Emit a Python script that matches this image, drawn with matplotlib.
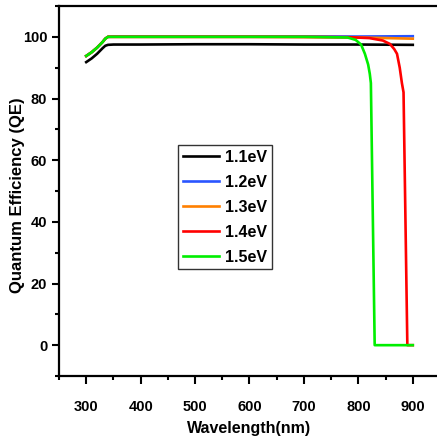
import numpy as np
import matplotlib
matplotlib.use("Agg")
import matplotlib.pyplot as plt

plt.rcParams['font.family'] = ['Liberation Sans', 'DejaVu Sans']
plt.rcParams['font.weight'] = 'bold'

# Wavelength (nm) and QE (%)
wl_flat = [300, 310, 320, 330, 335, 340, 350, 400, 500, 600, 700, 800, 900]
qe_11 = [91.8, 93.0, 94.5, 96.3, 97.1, 97.4, 97.5, 97.5, 97.6, 97.6, 97.5, 97.5, 97.4]
qe_12 = [93.8, 95.0, 96.5, 98.3, 99.4, 100.0, 100.1, 100.1, 100.1, 100.1, 100.1, 100.1, 100.2]
qe_13 = [93.8, 95.0, 96.5, 98.3, 99.4, 100.0, 100.0, 100.0, 100.0, 100.0, 99.9, 99.8, 99.4]

wl_14 = [300, 310, 320, 330, 335, 340, 350, 500, 700, 780, 820, 845, 858,
         866, 871, 876, 880, 883, 890, 900]
qe_14 = [93.8, 95.0, 96.5, 98.3, 99.4, 100.0, 100.0, 100.0, 100.0, 99.9, 99.6,
         98.8, 97.7, 96.0, 94.5, 90.0, 85.0, 82.0, 0.0, 0.0]

wl_15 = [300, 310, 320, 330, 335, 340, 350, 500, 700, 780, 795, 805, 812,
         818, 821, 823, 830, 900]
qe_15 = [93.8, 95.0, 96.5, 98.3, 99.4, 100.0, 100.0, 100.0, 100.0, 99.8, 99.0,
         97.5, 94.5, 91.0, 88.0, 85.0, 0.0, 0.0]

labels = ['1.1eV', '1.2eV', '1.3eV', '1.4eV', '1.5eV']
colors = ['#000000', '#2a55ff', '#ff8000', '#ff0000', '#00ee00']

fig = plt.figure(figsize=(4.37, 4.38), dpi=100)
ax = fig.add_axes([59 / 437, 62 / 438, (440 - 59) / 437, (376 - 6) / 438])

series = [(wl_flat, qe_11), (wl_flat, qe_12), (wl_flat, qe_13),
          (wl_14, qe_14), (wl_15, qe_15)]
for (x, y), lab, c in zip(series, labels, colors):
    ax.plot(x, y, color=c, lw=1.9, label=lab)

ax.set_xlim(250, 950)
ax.set_ylim(-10, 110)
ax.set_xticks(np.arange(300, 901, 100))
ax.set_xticks(np.arange(250, 951, 50), minor=True)
ax.set_yticks(np.arange(0, 101, 20))
ax.set_yticks(np.arange(-10, 111, 10), minor=True)
ax.tick_params(which='both', direction='out', width=1.5, top=False, right=False,
               labelsize=10.5)
ax.tick_params(which='major', length=5)
ax.tick_params(which='minor', length=3)
ax.tick_params(axis='x', which='major', length=6, pad=11)
for s in ax.spines.values():
    s.set_linewidth(1.6)

ax.set_xlabel('Wavelength(nm)', fontsize=11.5, fontweight='bold', labelpad=5)
ax.set_ylabel('Quantum Efficiency (QE)', fontsize=12, fontweight='bold')
ax.yaxis.set_label_coords(-0.09, 0.49)

leg = ax.legend(loc='upper left', bbox_to_anchor=(0.312, 0.624), borderaxespad=0,
                fancybox=False, edgecolor='black',
                prop={'weight': 'bold', 'size': 11.5}, handlelength=2.3,
                handletextpad=0.35, borderpad=0.3, labelspacing=0.62)
leg.get_frame().set_linewidth(1.0)

fig.savefig('out.png', dpi=100)
